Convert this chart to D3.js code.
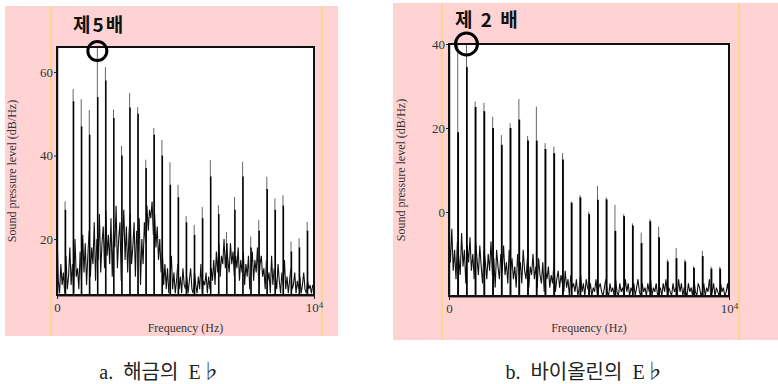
<!DOCTYPE html>
<html>
<head>
<meta charset="utf-8">
<script src="https://cdn.jsdelivr.net/npm/d3@7"></script>
<style>
  body { margin: 0; background: #fff; }
  svg { display: block; }
  .axis text { font-family: "Liberation Serif", "DejaVu Serif", serif; font-size: 13px; fill: #333; }
  .axis line, .axis path { stroke: #222; }
  .lbl { font-family: "Liberation Serif", "DejaVu Serif", serif; font-size: 12px; fill: #333; }
</style>
</head>
<body>
<svg id="chart" width="778" height="384"></svg>
<script>
// noise floor read every 50 Hz, one peak per harmonic (tip level and where the dark body starts)
const noiseStepHz = 50;
const freqTicks = [0, 10000];

const haegeumF0 = 314;
const haegeumYTicks = [20, 40, 60];
const haegeumNoiseDb = [
  22, 10, 7, 14, 9, 12, 7, 16, 8, 11, 18, 9, 14, 7, 20, 11, 13, 8, 17, 10, 21,
  12, 19, 9, 16, 22, 11, 18, 14, 24, 10, 20, 15, 26, 12, 19, 23, 13, 27, 16, 21,
  14, 25, 11, 22, 18, 28, 13, 20, 24, 10, 19, 27, 15, 23, 12, 21, 26, 14, 18, 24,
  11, 22, 17, 25, 9, 20, 14, 24, 19, 28, 22, 27, 25, 29, 21, 26, 18, 23, 15, 20,
  12, 17, 9, 14, 8, 13, 7, 11, 16, 8, 12, 7, 10, 14, 8, 11, 7, 13, 9, 8,
  11, 7, 10, 13, 8, 7, 12, 9, 7, 11, 8, 14, 7, 10, 9, 12, 7, 11, 8, 13,
  10, 15, 9, 17, 12, 19, 11, 16, 14, 20, 13, 18, 15, 12, 19, 14, 17, 11, 16, 13,
  18, 10, 15, 12, 17, 9, 14, 11, 16, 8, 13, 17, 10, 15, 12, 18, 9, 14, 16, 11,
  13, 8, 15, 10, 12, 7, 16, 9, 13, 11, 8, 14, 10, 7, 12, 9, 15, 8, 11, 7,
  10, 13, 8, 9, 12, 7, 10, 8, 11, 7, 9, 12, 8, 7, 10, 8, 9, 7, 9, 8
];
const haegeumPeakDb = [29, 55.9, 53.5, 50.9, 68, 61.2, 51, 42.3, 55, 51.6, 39, 46.6, 43.7, 38.4, 33, 25.5,
  23.4, 27.7, 38.9, 28.1, 21.7, 30.1, 38.5, 20.6, 24.6, 34.9, 29.7, 30.5, 19.4, 20.2, 24.1];
const haegeumBodyDb = [27, 53, 47, 45, 54, 58, 49, 40, 51.5, 50, 37, 45, 40, 33, 30, 24,
  21, 25, 35, 26, 19, 27, 35, 18, 22, 32, 27, 28, 17, 18, 22];

const violinF0 = 312;
const violinYTicks = [0, 20, 40];
const violinNoiseDb = [
  -6, -12, -4, -14, -9, -16, -7, -11, -15, -5, -13, -9, -17, -8, -12, -6, -14, -10, -16, -7, -11,
  -15, -8, -13, -17, -9, -12, -16, -10, -14, -7, -15, -11, -18, -9, -13, -16, -10, -14, -8, -15,
  -12, -17, -9, -14, -11, -16, -13, -18, -10, -15, -12, -17, -9, -14, -16, -11, -18, -13, -15, -10,
  -16, -13, -18, -11, -15, -17, -12, -19, -14, -16, -13, -18, -15, -17, -12, -19, -16, -14, -18, -15,
  -17, -19, -14, -18, -16, -20, -15, -18, -17, -19, -16, -20, -18, -15, -19, -17, -20, -16, -18, -19,
  -17, -20, -18, -19, -16, -20, -18, -17, -19, -20, -18, -16, -19, -20, -17, -19, -18, -20, -16, -19,
  -20, -17, -19, -18, -20, -16, -19, -17, -20, -18, -19, -17, -20, -18, -16, -19, -20, -17, -19, -18,
  -20, -17, -19, -16, -20, -18, -19, -17, -20, -19, -18, -20, -17, -19, -16, -20, -18, -19, -20, -17,
  -19, -18, -20, -16, -19, -17, -20, -18, -19, -20, -17, -19, -18, -20, -16, -19, -20, -17, -18, -20,
  -19, -17, -20, -18, -19, -16, -20, -19, -17, -20, -18, -19, -20, -17, -19, -18, -20, -19, -17, -20
];
const violinPeakDb = [42, 42, 26.3, 26, 22.7, 18.3, 21.1, 26.9, 18.1, 25.1, 16.4, 15.6, 14, 2.5, 4, 0.1,
  6.2, 3.5, 1.7, -0.5, -2.7, -4.9, -1.7, -3.5, -11.3, -8.6, -11.3, -12.9, -9.2, -13, -13, -16.6];
const violinBodyDb = [19, 34.5, 25, 24, 20, 16, 20, 22, 17, 17, 15, 14, 12.5, 2.2, 3.5, -0.5,
  2.9, 3, -4.5, -1, -3.2, -7.4, -2.2, -6, -11.8, -11, -11.8, -13.3, -10.5, -13.5, -13.5, -17];

const svg = d3.select('#chart');

function drawPanel(p) {
  const g = svg.append('g');

  g.append('rect')
    .attr('x', p.bg[0]).attr('y', p.bg[1])
    .attr('width', p.bg[2]).attr('height', p.bg[3])
    .attr('fill', '#ffd3d3');
  p.guides.forEach(gx => {
    g.append('line')
      .attr('x1', gx).attr('x2', gx)
      .attr('y1', p.bg[1]).attr('y2', p.bg[1] + p.bg[3])
      .attr('stroke', '#f9d592').attr('stroke-width', 2);
  });

  g.append('rect')
    .attr('x', p.left).attr('y', p.top)
    .attr('width', p.right - p.left).attr('height', p.bottom - p.top)
    .attr('fill', '#fff');

  const x = d3.scaleLinear().domain([0, 10000]).range([p.left, p.right]).clamp(true);
  const y = d3.scaleLinear().domain(p.yDomain).range([p.bottom, p.top]).clamp(true);

  const noiseLine = d3.line()
    .x((d, i) => x(i * noiseStepHz))
    .y(d => y(d));
  g.append('path')
    .datum(p.noise)
    .attr('d', noiseLine)
    .attr('fill', 'none')
    .attr('stroke', '#111')
    .attr('stroke-width', 1.1);

  // thin grey tips, then the dark body of every harmonic
  g.selectAll('.tip')
    .data(p.peaks)
    .enter().append('line')
    .attr('class', 'tip')
    .attr('x1', (d, i) => x((i + 1) * p.f0))
    .attr('x2', (d, i) => x((i + 1) * p.f0))
    .attr('y1', y(p.yDomain[0]))
    .attr('y2', d => y(d))
    .attr('stroke', '#666')
    .attr('stroke-width', 1);
  g.selectAll('.body')
    .data(p.bodies)
    .enter().append('line')
    .attr('class', 'body')
    .attr('x1', (d, i) => x((i + 1) * p.f0) + 0.4)
    .attr('x2', (d, i) => x((i + 1) * p.f0) + 0.4)
    .attr('y1', y(p.yDomain[0]))
    .attr('y2', d => y(d))
    .attr('stroke', '#000')
    .attr('stroke-width', p.bodyWidth);

  const yAxis = g.append('g')
    .attr('class', 'axis')
    .attr('transform', 'translate(' + p.left + ',0)')
    .call(d3.axisLeft(y).tickValues(p.yTicks).tickSize(3).tickSizeOuter(0).tickPadding(1));
  yAxis.select('.domain').attr('stroke-width', 1.5);

  const xAxis = g.append('g')
    .attr('class', 'axis')
    .attr('transform', 'translate(0,' + p.bottom + ')')
    .call(d3.axisBottom(x).tickValues(freqTicks).tickSize(4).tickSizeOuter(0).tickPadding(4)
      .tickFormat(d => d === 0 ? '0' : '10'));
  xAxis.select('.domain').attr('stroke-width', 2);
  xAxis.selectAll('.tick text').filter(d => d === 10000)
    .append('tspan').attr('dy', '-0.45em').style('font-size', '9px').text('4');

  g.append('rect')
    .attr('x', p.left).attr('y', p.top)
    .attr('width', p.right - p.left).attr('height', p.bottom - p.top)
    .attr('fill', 'none').attr('stroke', '#111').attr('stroke-width', 2);

  g.append('text')
    .attr('class', 'lbl')
    .attr('x', (p.left + p.right) / 2).attr('y', 332)
    .attr('text-anchor', 'middle')
    .text('Frequency (Hz)');
  g.append('text')
    .attr('class', 'lbl')
    .attr('transform', 'translate(' + p.yLabelX + ',' + (p.top + p.bottom) / 2 + ') rotate(-90)')
    .attr('text-anchor', 'middle')
    .text('Sound pressure level (dB/Hz)');

  g.append('text')
    .attr('x', p.callout[0]).attr('y', p.callout[1])
    .style('font-family', '"Noto Sans CJK KR", sans-serif')
    .style('font-weight', 'bold')
    .style('font-size', '19px')
    .style('letter-spacing', p.calloutSpacing)
    .style('white-space', 'pre')
    .attr('fill', '#111')
    .text(p.calloutText);
  g.append('circle')
    .attr('cx', x(p.calloutHarmonic * p.f0))
    .attr('cy', p.top + p.circleDy)
    .attr('r', p.circleR)
    .attr('fill', 'none')
    .attr('stroke', '#000')
    .attr('stroke-width', 3);

  g.append('text')
    .attr('x', p.captionX).attr('y', 379)
    .attr('text-anchor', 'middle')
    .style('font-family', '"Liberation Serif", "Noto Sans CJK KR", serif')
    .style('font-size', '20px')
    .style('white-space', 'pre')
    .attr('fill', '#222')
    .text(p.caption);
}

drawPanel({
  bg: [5, 6, 333, 330], guides: [51, 322],
  left: 57, right: 314, top: 47, bottom: 295,
  yDomain: [6.6, 66], yTicks: haegeumYTicks, yLabelX: 16,
  f0: haegeumF0, noise: haegeumNoiseDb, peaks: haegeumPeakDb, bodies: haegeumBodyDb, bodyWidth: 1.5,
  calloutText: '제5배', calloutSpacing: '2px', callout: [73, 32], calloutHarmonic: 5, circleDy: 4, circleR: 9.5,
  caption: 'a.  해금의  E♭', captionX: 160
});

drawPanel({
  bg: [393, 3, 385, 337], guides: [442, 739],
  left: 449, right: 729, top: 44, bottom: 296,
  yDomain: [-20, 40], yTicks: violinYTicks, yLabelX: 405,
  f0: violinF0, noise: violinNoiseDb, peaks: violinPeakDb, bodies: violinBodyDb, bodyWidth: 1.8,
  calloutText: '제 2 배', calloutSpacing: '2px', callout: [455, 27], calloutHarmonic: 2, circleDy: 0, circleR: 11,
  caption: 'b.  바이올린의  E♭', captionX: 585
});
</script>
</body>
</html>
